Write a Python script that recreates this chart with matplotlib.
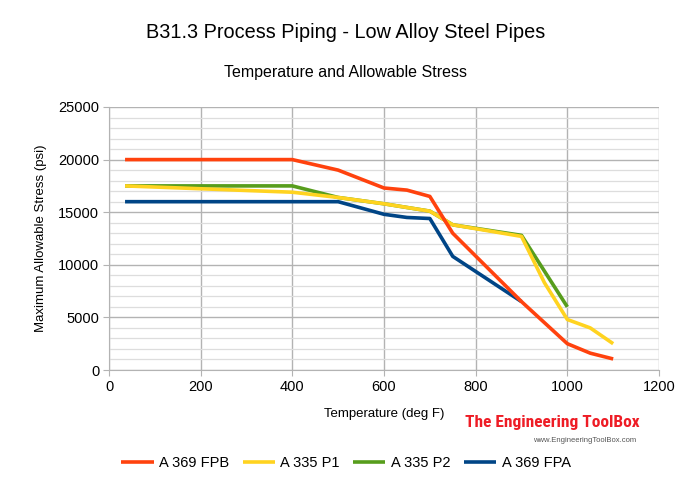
import matplotlib
matplotlib.use("Agg")
import matplotlib.pyplot as plt
from matplotlib.ticker import MultipleLocator
from matplotlib import font_manager

plt.rcParams['font.family'] = ['Liberation Sans', 'DejaVu Sans']

fpb_t = [35, 400, 500, 600, 650, 700, 750, 900, 1000, 1050, 1100]
fpb_s = [20000, 20000, 19000, 17300, 17100, 16500, 13000, 6500, 2500, 1600, 1050]

p1_t = [35, 400, 500, 600, 700, 750, 900, 950, 1000, 1050, 1100]
p1_s = [17500, 16900, 16400, 15800, 15100, 13800, 12700, 8300, 4800, 4000, 2500]

p2_t = [35, 400, 500, 600, 700, 750, 900, 1000]
p2_s = [17500, 17500, 16400, 15800, 15100, 13800, 12800, 6000]

fpa_t = [35, 400, 500, 600, 650, 700, 750, 900]
fpa_s = [16000, 16000, 16000, 14800, 14500, 14400, 10800, 6500]

series = [
    ("A 369 FPB", fpb_t, fpb_s, "#ff420e"),
    ("A 335 P1", p1_t, p1_s, "#ffd320"),
    ("A 335 P2", p2_t, p2_s, "#579d1c"),
    ("A 369 FPA", fpa_t, fpa_s, "#004586"),
]

fig = plt.figure(figsize=(6.93, 4.82), dpi=100)
ax = fig.add_axes([109/693, 1-370/482, 550/693, 263/482])

order = [2, 1, 3, 0]
lines = {}
for i in order:
    name, t, s, c = series[i]
    ln, = ax.plot(t, s, color=c, lw=2.6, label=name, solid_capstyle='butt', zorder=3)
    lines[i] = ln

ax.set_xlim(0, 1200)
ax.set_ylim(0, 25000)
ax.xaxis.set_major_locator(MultipleLocator(200))
ax.yaxis.set_major_locator(MultipleLocator(5000))
ax.yaxis.set_minor_locator(MultipleLocator(1000))
ax.grid(True, which='major', color='#b3b3b3', lw=1.0)
ax.grid(True, which='minor', axis='y', color='#dddddd', lw=0.9)
ax.set_axisbelow(True)
for sp in ['top', 'right']:
    ax.spines[sp].set_visible(False)
for sp in ['left', 'bottom']:
    ax.spines[sp].set_color('#b3b3b3')
ax.tick_params(axis='both', which='major', length=4, color='#b3b3b3', labelsize=10.5, pad=3)
ax.tick_params(axis='both', which='minor', length=0)

ax.set_xlabel("Temperature (deg F)", fontsize=9.5, labelpad=10)
ax.set_ylabel("Maximum Allowable Stress (psi)", fontsize=9.5, labelpad=8)

fig.text(346/693, 1-32/482, "B31.3 Process Piping - Low Alloy Steel Pipes", fontsize=14.3, ha='center', va='center')
fig.text(346/693, 1-73/482, "Temperature and Allowable Stress", fontsize=11.5, ha='center', va='center')

names = {f.name for f in font_manager.fontManager.ttflist}
wm_fam = None
for cand in ['Liberation Sans Narrow', 'DejaVu Sans Condensed', 'Roboto Condensed', 'Open Sans Condensed']:
    if cand in names:
        wm_fam = cand
        break
if wm_fam:
    wm_size = 12.5
    fam = [wm_fam, 'DejaVu Sans']
else:
    wm_size = 10.5
    fam = ['Liberation Sans', 'DejaVu Sans']
fig.text(552/693, 1-423/482, "The Engineering ToolBox", fontsize=wm_size, color='#ee1c25', fontweight='bold',
         ha='center', va='center', family=fam)
fig.text(585/693, 1-441/482, "www.EngineeringToolBox.com", fontsize=5.5, color='#555555', ha='center', va='center')

handles = [lines[i] for i in range(4)]
fig.legend(handles, [series[i][0] for i in range(4)], loc='center', bbox_to_anchor=(346/693, 1-463/482),
           ncol=4, frameon=False, fontsize=10.5, handlelength=2.2, columnspacing=0.9, handletextpad=0.4)

fig.savefig("out.png", dpi=100)
